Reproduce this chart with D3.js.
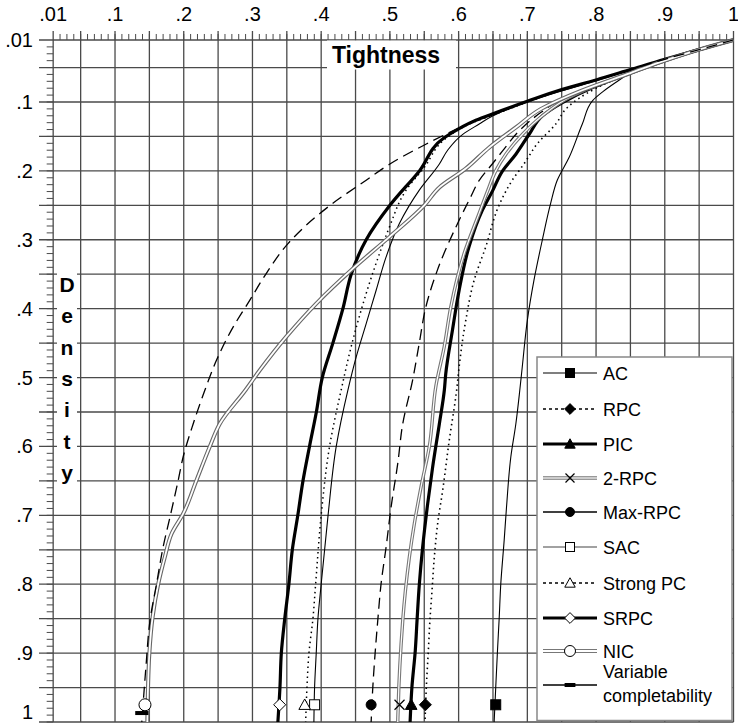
<!DOCTYPE html>
<html>
<head>
<meta charset="utf-8">
<script src="https://cdn.jsdelivr.net/npm/d3@7"></script>
<style>
  body { margin: 0; background: #fff; }
  svg { display: block; font-family: "Liberation Sans", Arial, sans-serif; }
</style>
</head>
<body>
<div id="chart"></div>
<script>
// Chart dimensions
var w = 738;
var h = 725;

// tick values / labels (same on both axes)
var tickValues = [0.01, 0.1, 0.2, 0.3, 0.4, 0.5, 0.6, 0.7, 0.8, 0.9, 1];
var tickLabels = [".01", ".1", ".2", ".3", ".4", ".5", ".6", ".7", ".8", ".9", "1"];

// curves: [tightness, density]
var acData = [[1,.01],[.95,.024],[.9,.04],[.85,.058],[.8285,.0718],[.81,.085],[.795,.098],[.78,.132],[.7607,.1807],[.7435,.2137],[.7338,.2476],[.7217,.3008],[.7096,.359],[.7,.417],[.6926,.4847],[.689,.5185],[.6833,.567],[.676,.615],[.6697,.688],[.6663,.736],[.6614,.799],[.659,.85],[.6566,.8955],[.654,.95],[.6517,1]];
var rpcData = [[1,.01],[.95,.024],[.9,.04],[.85,.058],[.8,.08],[.7583,.108],[.7414,.132],[.715,.16],[.695,.19],[.678,.2137],[.6588,.25],[.6394,.3105],[.6225,.359],[.6104,.417],[.6007,.4847],[.5971,.5185],[.5864,.591],[.5768,.6637],[.5695,.712],[.5647,.76],[.5613,.809],[.5584,.85],[.556,.8955],[.553,.95],[.5511,1]];
var picData = [[1,.01],[.95,.024],[.9,.04],[.85,.058],[.795,.079],[.751,.1008],[.722,.12],[.7027,.1468],[.6833,.1758],[.664,.2],[.6494,.229],[.6346,.257],[.615,.3105],[.6007,.3734],[.591,.4315],[.5813,.4944],[.5792,.5185],[.572,.567],[.5622,.63],[.555,.683],[.5477,.746],[.5429,.799],[.5395,.8525],[.537,.8955],[.532,.95],[.5294,1]];
var rpc2Data = [[1,.01],[.95,.024],[.9,.04],[.85,.058],[.8,.076],[.7607,.0936],[.722,.12],[.693,.1468],[.6688,.1758],[.654,.2],[.6422,.229],[.6297,.262],[.608,.32],[.5886,.3976],[.579,.4557],[.567,.512],[.5574,.6],[.5453,.659],[.5356,.712],[.5284,.76],[.5226,.809],[.5187,.8525],[.5163,.887],[.513,.95],[.5114,1]];
var maxRpcData = [[1,.01],[.95,.024],[.9,.04],[.85,.058],[.8,.078],[.75,.096],[.72,.115],[.69,.14],[.664,.171],[.649,.19],[.63,.2137],[.617,.239],[.6007,.2718],[.569,.3444],[.5523,.3976],[.5426,.4509],[.533,.504],[.5187,.567],[.5114,.625],[.5017,.688],[.4945,.746],[.4872,.799],[.4824,.852],[.4785,.9],[.4751,.95],[.4727,1]];
var sacData = [[1,.01],[.95,.024],[.9,.038],[.85,.053],[.8,.069],[.75,.084],[.7,.1],[.65,.12],[.63,.132],[.606,.147],[.584,.17],[.572,.19],[.5428,.228],[.5138,.2765],[.4945,.3249],[.48,.3733],[.4655,.4217],[.451,.47],[.4388,.5185],[.4219,.6],[.41,.7],[.4,.8],[.3953,.85],[.3928,.9],[.3904,.95],[.3894,1]];
var strongPcData = [[1,.01],[.95,.024],[.9,.038],[.85,.053],[.8,.068],[.75,.083],[.7,.1],[.65,.119],[.625,.128],[.6,.14],[.58,.154],[.55,.195],[.5235,.228],[.4994,.2813],[.4849,.32],[.4655,.378],[.446,.446],[.429,.5185],[.4122,.6],[.4,.7],[.3919,.8],[.388,.85],[.3822,.9],[.3793,.95],[.3774,1]];
var srpcData = [[1,.01],[.95,.024],[.9,.038],[.85,.053],[.8,.068],[.75,.082],[.7,.099],[.65,.117],[.625,.1265],[.6,.139],[.579,.152],[.543,.2],[.5,.25],[.4655,.3],[.4437,.35],[.4316,.4],[.417,.45],[.4016,.5],[.393,.55],[.383,.6],[.3735,.65],[.366,.7],[.358,.75],[.353,.8],[.347,.85],[.342,.9],[.34,.95],[.337,1]];
var nicData = [[1,.01],[.95,.024],[.9,.04],[.85,.058],[.78,.083],[.72,.11],[.6833,.137],[.6446,.166],[.61,.197],[.572,.224],[.55,.25],[.4994,.2958],[.446,.342],[.3928,.3926],[.349,.441],[.3106,.4895],[.29,.518],[.2525,.567],[.238,.6],[.2186,.649],[.1992,.6976],[.1823,.7267],[.1726,.76],[.163,.799],[.1547,.8477],[.15,.9],[.148,.95],[.147,1]];
var varCompData = [[1,.01],[.95,.024],[.9,.038],[.85,.053],[.8,.068],[.75,.082],[.7,.099],[.65,.117],[.625,.1265],[.6,.138],[.553,.161],[.5,.19],[.4655,.2136],[.417,.247],[.3517,.3055],[.32,.349],[.296,.388],[.272,.4265],[.2476,.475],[.2307,.5185],[.2138,.567],[.1992,.615],[.192,.649],[.18,.7025],[.17,.746],[.1605,.799],[.151,.852],[.145,.92],[.139,1]];

// marker positions (tightness, density)
var seriesNames = ["AC", "RPC", "PIC", "2-RPC", "Max-RPC", "SAC", "Strong PC", "SRPC", "NIC", "Variable completability"];
var markerT = [0.654, 0.5516, 0.531, 0.514, 0.4727, 0.3904, 0.376, 0.3396, 0.1436, 0.139];
var markerD = [0.975, 0.975, 0.975, 0.975, 0.975, 0.975, 0.975, 0.975, 0.975, 0.987];

var seriesData = [acData, rpcData, picData, rpc2Data, maxRpcData, sacData, strongPcData, srpcData, nicData, varCompData];

// style per series
var styles = [
  {stroke: "#000", width: 1.1, dash: null, marker: "square", fill: "#000", legendDash: null},
  {stroke: "#000", width: 1.6, dash: "1.5,3.5", marker: "diamond", fill: "#000", legendDash: "3,3"},
  {stroke: "#000", width: 3.2, dash: null, marker: "triangle", fill: "#000", legendDash: null},
  {stroke: "#777", width: 3.4, dash: null, marker: "x", fill: "none", legendDash: null, inner: 1.2, legendStroke: "#999", legendWidth: 4},
  {stroke: "#000", width: 1.3, dash: "11,6", marker: "circle", fill: "#000", legendDash: "none"},
  {stroke: "#000", width: 1.1, dash: null, marker: "square", fill: "#fff", legendStroke: "#444"},
  {stroke: "#000", width: 1.5, dash: "1.5,3.5", marker: "triangle", fill: "#fff", legendDash: "3,3"},
  {stroke: "#000", width: 3.2, dash: null, marker: "diamond", fill: "#fff"},
  {stroke: "#666", width: 4, dash: null, marker: "circle", fill: "#fff", inner: 1.8, legendStroke: "#777"},
  {stroke: "#000", width: 1.3, dash: "11,6", marker: "bar", fill: "#000", legendDash: "none"}
];

function drawMarker(g, type, cx, cy, fill, s) {
  if (type === "square") {
    g.append("rect").attr("x", cx - s / 2).attr("y", cy - s / 2).attr("width", s).attr("height", s)
      .attr("fill", fill).attr("stroke", "#000").attr("stroke-width", 1);
  } else if (type === "diamond") {
    var r = s * 0.6;
    g.append("path").attr("d", "M" + cx + "," + (cy - r) + "L" + (cx + r) + "," + cy + "L" + cx + "," + (cy + r) + "L" + (cx - r) + "," + cy + "Z")
      .attr("fill", fill).attr("stroke", "#000").attr("stroke-width", 1);
  } else if (type === "triangle") {
    var r2 = s * 0.58;
    g.append("path").attr("d", "M" + cx + "," + (cy - r2) + "L" + (cx + r2) + "," + (cy + r2 * 0.8) + "L" + (cx - r2) + "," + (cy + r2 * 0.8) + "Z")
      .attr("fill", fill).attr("stroke", "#000").attr("stroke-width", 1);
  } else if (type === "circle") {
    g.append("circle").attr("cx", cx).attr("cy", cy).attr("r", s / 2)
      .attr("fill", fill).attr("stroke", "#000").attr("stroke-width", 1);
  } else if (type === "x") {
    var r3 = s / 2;
    g.append("path").attr("d", "M" + (cx - r3) + "," + (cy - r3) + "L" + (cx + r3) + "," + (cy + r3) + "M" + (cx + r3) + "," + (cy - r3) + "L" + (cx - r3) + "," + (cy + r3))
      .attr("stroke", "#000").attr("stroke-width", 1.2).attr("fill", "none");
  } else if (type === "bar") {
    g.append("rect").attr("x", cx - s * 0.6).attr("y", cy - 2).attr("width", s * 1.2).attr("height", 4).attr("fill", "#000");
  }
}

function main() {
  var xScale = d3.scaleLinear().domain([0, 1]).range([46.3, 733.5]);
  var yScale = d3.scaleLinear().domain([0, 1]).range([33.1, 722]);

  var svg = d3.select("#chart").append("svg").attr("width", w).attr("height", h);
  svg.append("rect").attr("width", w).attr("height", h).attr("fill", "#fff");

  var x0 = xScale(0.01), y0 = yScale(0.01);
  var grid = svg.append("g").attr("stroke", "#4a4a4a").attr("stroke-width", 1.3);

  // grid lines every .05
  var gridVals = d3.range(1, 21).map(function(i) { return i * 0.05; });
  gridVals.forEach(function(v) {
    grid.append("line").attr("x1", xScale(v)).attr("x2", xScale(v)).attr("y1", 31).attr("y2", yScale(1));
    grid.append("line").attr("y1", yScale(v)).attr("y2", yScale(v)).attr("x1", 39).attr("x2", xScale(1));
  });
  // axis lines at .01
  grid.append("line").attr("x1", x0).attr("x2", x0).attr("y1", 31).attr("y2", yScale(1));
  grid.append("line").attr("y1", y0).attr("y2", y0).attr("x1", 39).attr("x2", xScale(1));

  // minor ticks every .01
  var minor = d3.range(2, 101).map(function(i) { return i / 100; });
  var ticks = svg.append("g").attr("stroke", "#4a4a4a").attr("stroke-width", 1);
  minor.forEach(function(v) {
    ticks.append("line").attr("x1", xScale(v)).attr("x2", xScale(v)).attr("y1", y0 - 6).attr("y2", y0);
    ticks.append("line").attr("y1", yScale(v)).attr("y2", yScale(v)).attr("x1", x0 - 6.5).attr("x2", x0);
  });

  // tick labels
  svg.selectAll(".xlab").data(tickValues).enter().append("text")
    .attr("x", function(d) { return xScale(d); })
    .attr("y", 21)
    .attr("text-anchor", "middle")
    .attr("font-size", "20px")
    .text(function(d, i) { return tickLabels[i]; });
  svg.selectAll(".ylab").data(tickValues).enter().append("text")
    .attr("x", 33)
    .attr("y", function(d) { return Math.min(yScale(d) + 7, 719); })
    .attr("text-anchor", "end")
    .attr("font-size", "20px")
    .text(function(d, i) { return tickLabels[i]; });

  // curves
  var line = d3.line()
    .x(function(d) { return xScale(d[0]); })
    .y(function(d) { return yScale(d[1]); })
    .curve(d3.curveMonotoneY);

  seriesData.forEach(function(data, i) {
    var st = styles[i];
    svg.append("path").datum(data)
      .attr("fill", "none")
      .attr("stroke", st.stroke)
      .attr("stroke-width", st.width)
      .attr("stroke-dasharray", st.dash)
      .attr("d", line);
    if (st.inner) {
      svg.append("path").datum(data)
        .attr("fill", "none")
        .attr("stroke", "#fff")
        .attr("stroke-width", st.inner)
        .attr("d", line);
    }
  });

  // markers
  var mk = svg.append("g");
  markerT.forEach(function(t, i) {
    drawMarker(mk, styles[i].marker, xScale(t), yScale(markerD[i]), styles[i].fill, i === 8 ? 12 : (i === 9 ? 11 : 10));
  });

  // axis titles
  svg.append("rect").attr("x", 327).attr("y", 40.5).attr("width", 129).attr("height", 29).attr("fill", "#fff");
  svg.append("text")
    .attr("x", 386).attr("y", 63)
    .attr("text-anchor", "middle")
    .attr("font-size", "23px").attr("font-weight", "bold")
    .text("Tightness");

  svg.append("rect").attr("x", 57).attr("y", 270).attr("width", 20).attr("height", 215).attr("fill", "#fff");
  "Density".split("").forEach(function(c, i) {
    svg.append("text")
      .attr("x", 67).attr("y", 292 + i * 31.3)
      .attr("text-anchor", "middle")
      .attr("font-size", "21px").attr("font-weight", "bold")
      .text(c);
  });

  // legend
  var lg = svg.append("g");
  lg.append("rect").attr("x", 537).attr("y", 357).attr("width", 195).attr("height", 363.5)
    .attr("fill", "#fff").attr("stroke", "#888").attr("stroke-width", 1.5);
  var rowY = [373, 409, 444, 478, 512, 547, 583, 618, 651, 685];
  seriesNames.forEach(function(name, i) {
    var st = styles[i];
    var y = rowY[i];
    lg.append("line").attr("x1", 543).attr("x2", 597).attr("y1", y).attr("y2", y)
      .attr("stroke", st.legendStroke || st.stroke)
      .attr("stroke-width", st.legendWidth || st.width)
      .attr("stroke-dasharray", st.legendDash === "none" ? null : (st.legendDash || st.dash));
    if (st.inner) {
      lg.append("line").attr("x1", 543).attr("x2", 597).attr("y1", y).attr("y2", y)
        .attr("stroke", "#fff").attr("stroke-width", st.inner);
    }
    drawMarker(lg, st.marker, 570, y, st.fill, i === 8 ? 11 : 9);
    if (i === 9) {
      lg.append("text").attr("x", 603).attr("y", 678).attr("font-size", "18px").text("Variable");
      lg.append("text").attr("x", 603).attr("y", 702).attr("font-size", "18px").text("completability");
    } else {
      lg.append("text").attr("x", 603).attr("y", y + 6.5).attr("font-size", "18px").text(name);
    }
  });
}

window.onload = function() {
  main();
};
</script>
</body>
</html>
